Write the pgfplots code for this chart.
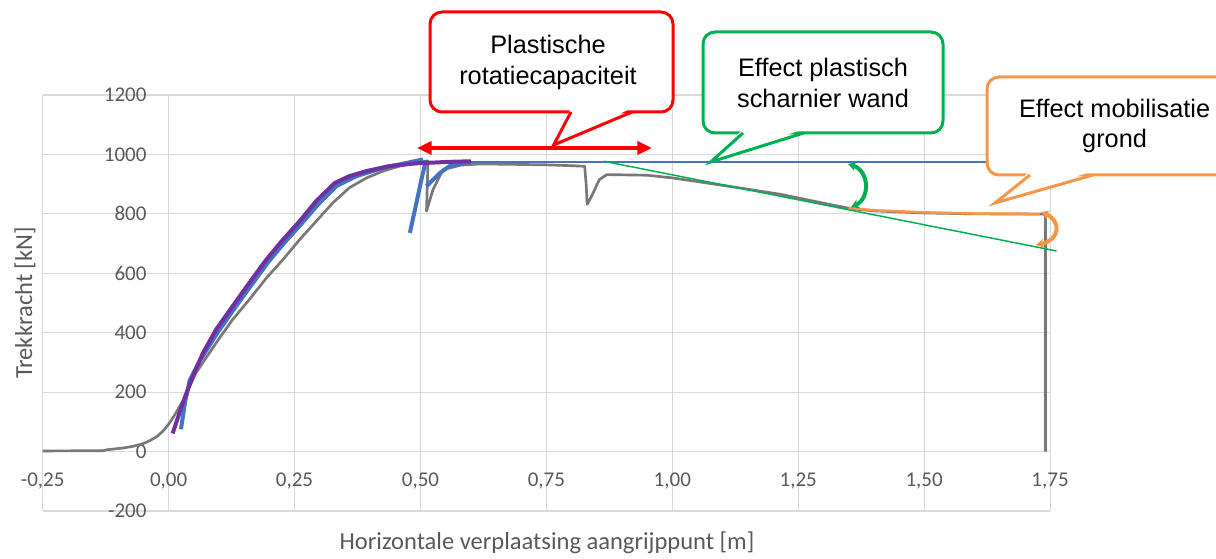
\documentclass[border=0pt]{standalone}
\usepackage{fontspec}
\setmainfont{Carlito}
\newfontfamily\arialfont{Liberation Sans}
\usepackage{pgfplots}
\pgfplotsset{compat=1.18}
\usetikzlibrary{arrows.meta}
\definecolor{gridc}{RGB}{217,217,217}
\definecolor{tickc}{RGB}{89,89,89}
\definecolor{grayc}{RGB}{120,120,120}
\definecolor{bluec}{RGB}{68,114,196}
\definecolor{purplec}{RGB}{112,48,160}
\definecolor{greenc}{RGB}{0,176,80}
\definecolor{orangec}{RGB}{247,150,70}
\begin{document}
\begin{tikzpicture}
\begin{axis}[
  scale only axis, width=755.5pt, height=312pt,
  xmin=-0.25, xmax=1.75, ymin=-200, ymax=1200,
  xtick={-0.25,0,0.25,0.5,0.75,1,1.25,1.5,1.75},
  xticklabels={{-0,25},{0,00},{0,25},{0,50},{0,75},{1,00},{1,25},{1,50},{1,75}},
  ytick={-200,0,200,400,600,800,1000,1200},
  yticklabels={-200,0,200,400,600,800,1000,1200},
  grid=major, major grid style={draw=gridc, line width=0.8pt},
  axis line style={draw=none},
  major tick length=0pt,
  tick label style={font=\fontsize{15.75}{18}\selectfont, color=tickc, inner sep=0pt},
  xticklabel style={anchor=center, yshift=22.5pt},
  yticklabel style={anchor=east, xshift=78pt},
  clip=false,
]
% grey measured curve
\addplot[grayc, line width=2pt, line join=round] coordinates {
(-0.25,2) (-0.13,3) (-0.123,6) (-0.09,12) (-0.07,18) (-0.05,27) (-0.037,37)
(-0.022,52) (-0.01,71) (0.0,92) (0.0095,116) (0.029,172) (0.054,264)
(0.094,365) (0.127,444) (0.16,511)
(0.194,584) (0.227,646) (0.26,713) (0.293,775) (0.326,837) (0.359,888)
(0.393,921) (0.426,944) (0.459,961) (0.505,977) (0.515,978) (0.512,809)
(0.525,882) (0.545,949) (0.58,964) (0.62,968) (0.75,965)
(0.8,962) (0.826,960) (0.829,900) (0.831,832) (0.84,860) (0.855,915)
(0.87,932) (0.95,930) (1.0,921) (1.1,896) (1.214,866) (1.3,836)
(1.353,818) (1.4,810) (1.5,803) (1.6,800) (1.738,799) (1.741,790) (1.741,0)
};
% blue curves
\addplot[bluec, line width=3pt, line join=round] coordinates {
(0.0245,75) (0.033,170) (0.042,240) (0.06,300) (0.097,400) (0.13,480)
(0.163,557) (0.197,636) (0.23,703) (0.263,765) (0.296,830) (0.333,893)
(0.373,927) (0.426,955) (0.505,983)
};
\addplot[bluec, line width=3pt, line join=round] coordinates {
(0.479,736) (0.492,837) (0.502,916) (0.509,966) (0.512,978)
};
\addplot[bluec, line width=3pt, line join=round] coordinates {
(0.512,893) (0.539,938) (0.558,961) (0.586,970) (0.6,975)
};
% purple curve
\addplot[purplec, line width=3pt, line join=round] coordinates {
(0.008,61) (0.028,163) (0.048,253) (0.068,331) (0.094,410) (0.127,489)
(0.16,567) (0.194,646) (0.227,713) (0.26,775) (0.293,843) (0.33,904)
(0.359,927) (0.393,944) (0.439,961) (0.492,970) (0.558,975) (0.6,977)
};
% horizontal reference line
\addplot[bluec, line width=1.1pt] coordinates {(0.6,975) (1.736,975)};
% declining line
\addplot[greenc, line width=1.1pt] coordinates {(0.864,977) (1.763,675)};
% orange overlay
\addplot[orangec, line width=1.9pt] coordinates {
(1.35,820) (1.4,812) (1.5,805) (1.6,801) (1.73,800)
};
\coordinate (BL) at (rel axis cs:0,0);
\end{axis}
\coordinate (TL) at ([xshift=-32.025pt,yshift=383.25pt]BL);
\begin{scope}[shift={(TL)}, x=0.75pt, y=-0.75pt]
  % red callout
  \draw[red, line width=2.25pt, fill=white, rounded corners=9pt] (430,12) rectangle (673,112);
  \fill[white] (571,108) -- (553.6,145) -- (632,108) -- cycle;
  \draw[red, line width=2.25pt] (571,112) -- (553.6,145) -- (632,112);
  \node[font=\arialfont\fontsize{19}{23.25}\selectfont, align=center] at (548,62.5) {Plastische\\rotatiecapaciteit};
  \draw[red, line width=2.4pt, {Triangle[length=11pt,width=10pt]}-{Triangle[length=11pt,width=10pt]}] (417,148) -- (652,148);
  % green callout
  \draw[greenc, line width=2.25pt, fill=white, rounded corners=9pt] (703,32) rectangle (943,133);
  \fill[white] (743,129) -- (710.7,162) -- (803.6,129) -- cycle;
  \draw[greenc, line width=2.25pt] (743,133) -- (710.7,162) -- (803.6,133);
  \node[font=\arialfont\fontsize{19}{23.25}\selectfont, align=center] at (823,83) {Effect plastisch\\scharnier wand};
  % orange callout
  \draw[orangec, line width=2.25pt, fill=white, rounded corners=9pt] (987,77) rectangle (1243,175);
  \fill[white] (1030,171) -- (995,203) -- (1093,171) -- cycle;
  \draw[orangec, line width=2.25pt] (1030,175) -- (995,203) -- (1093,175);
  \node[font=\arialfont\fontsize{19}{22}\selectfont, align=center] at (1114.6,126) {Effect mobilisatie\\grond};
  % curved arrows
  \draw[greenc, line width=3pt, {Stealth[length=6pt,width=7pt]}-{Stealth[length=6pt,width=7pt]}] (848,164) .. controls (870,171) and (870,199) .. (851,207);
  \draw[orangec, line width=3pt, {Stealth[length=6pt,width=7pt]}-{Stealth[length=6pt,width=7pt]}] (1041,212) .. controls (1061,220) and (1061,240) .. (1036,245);
  % axis titles
  \node[font=\fontsize{18.4}{22}\selectfont, color=tickc] at (547,543) {Horizontale verplaatsing aangrijppunt [m]};
  \node[font=\fontsize{18.4}{22}\selectfont, color=tickc, rotate=90] at (25,303) {Trekkracht [kN]};
\end{scope}
\pgfresetboundingbox
\path[use as bounding box] (TL) rectangle ([xshift=879.975pt,yshift=-36pt]BL);
\end{tikzpicture}
\end{document}
